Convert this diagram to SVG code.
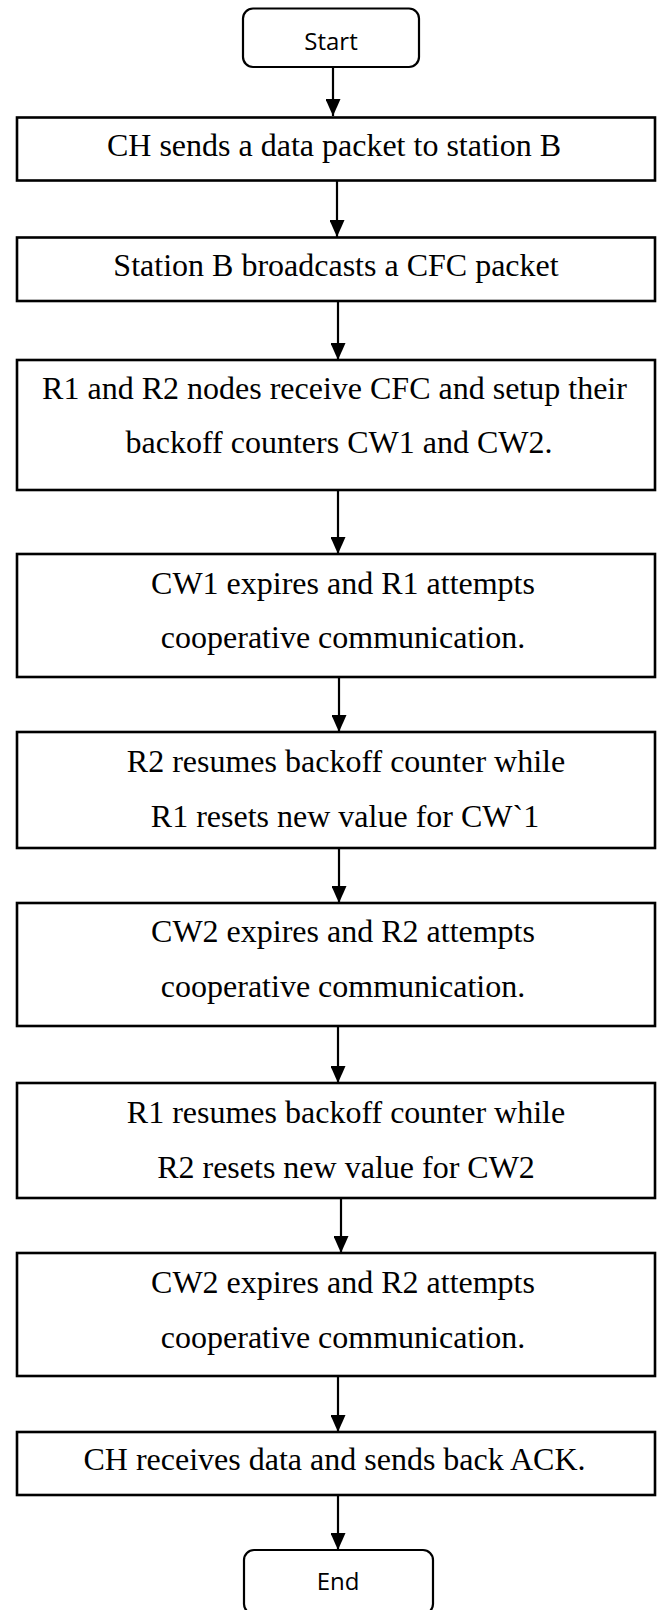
<svg xmlns="http://www.w3.org/2000/svg" width="662" height="1610" viewBox="0 0 662 1610">
<style>
  .box{fill:#fff;stroke:#000;stroke-width:2.6}
  .term{fill:#fff;stroke:#000;stroke-width:2.2}
  .t{font-family:'Liberation Serif','Times New Roman',Times,serif;font-size:32px;fill:#000;text-anchor:middle}
  .s{font-family:'Open Sans','Noto Sans',sans-serif;font-size:24px;fill:#000;text-anchor:middle}
  .c{stroke:#000;stroke-width:2.2;fill:none;marker-end:url(#ah)}
</style>
<defs>
  <marker id="ah" markerUnits="userSpaceOnUse" markerWidth="17" markerHeight="15" refX="17" refY="7.5" orient="auto" viewBox="0 0 17 15">
    <path d="M0,0 L17,7.5 L0,15 Z" fill="#000"/>
  </marker>
</defs>
<rect width="662" height="1610" fill="#fff"/>
<g id="connectors">
  <line class="c" x1="333" y1="67" x2="333" y2="116"/>
  <line class="c" x1="337" y1="181" x2="337" y2="237"/>
  <line class="c" x1="338" y1="301" x2="338" y2="360"/>
  <line class="c" x1="338" y1="490" x2="338" y2="554"/>
  <line class="c" x1="339" y1="677" x2="339" y2="732"/>
  <line class="c" x1="339" y1="848" x2="339" y2="903"/>
  <line class="c" x1="338" y1="1026" x2="338" y2="1083"/>
  <line class="c" x1="341" y1="1198" x2="341" y2="1253"/>
  <line class="c" x1="338" y1="1376" x2="338" y2="1432"/>
  <line class="c" x1="338" y1="1495" x2="338" y2="1550"/>
</g>
<g id="start">
  <rect class="term" x="243" y="8.5" width="176" height="58.5" rx="10"/>
  <text class="s" x="331" y="50">Start</text>
</g>
<g id="n1">
  <rect class="box" x="17" y="117.5" width="638" height="63"/>
  <text class="t" x="334" y="156">CH sends a data packet to station B</text>
</g>
<g id="n2">
  <rect class="box" x="17" y="237.5" width="638" height="63.5"/>
  <text class="t" x="336" y="276">Station B broadcasts a CFC packet</text>
</g>
<g id="n3">
  <rect class="box" x="17" y="360" width="638" height="130"/>
  <text class="t" x="334.5" y="399">R1 and R2 nodes receive CFC and setup their</text>
  <text class="t" x="339" y="453">backoff counters CW1 and CW2.</text>
</g>
<g id="n4">
  <rect class="box" x="17" y="554" width="638" height="123"/>
  <text class="t" x="343" y="594">CW1 expires and R1 attempts</text>
  <text class="t" x="343" y="648">cooperative communication.</text>
</g>
<g id="n5">
  <rect class="box" x="17" y="732" width="638" height="116"/>
  <text class="t" x="346" y="772">R2 resumes backoff counter while</text>
  <text class="t" x="345" y="827">R1 resets new value for CW`1</text>
</g>
<g id="n6">
  <rect class="box" x="17" y="903" width="638" height="123"/>
  <text class="t" x="343" y="942">CW2 expires and R2 attempts</text>
  <text class="t" x="343" y="997">cooperative communication.</text>
</g>
<g id="n7">
  <rect class="box" x="17" y="1083" width="638" height="115"/>
  <text class="t" x="346" y="1123">R1 resumes backoff counter while</text>
  <text class="t" x="346" y="1178">R2 resets new value for CW2</text>
</g>
<g id="n8">
  <rect class="box" x="17" y="1253" width="638" height="123"/>
  <text class="t" x="343" y="1293">CW2 expires and R2 attempts</text>
  <text class="t" x="343" y="1348">cooperative communication.</text>
</g>
<g id="n9">
  <rect class="box" x="17" y="1432" width="638" height="63"/>
  <text class="t" x="334.5" y="1470">CH receives data and sends back ACK.</text>
</g>
<g id="end">
  <rect class="term" x="244" y="1550" width="189" height="64" rx="10"/>
  <text class="s" x="338" y="1590">End</text>
</g>
</svg>
